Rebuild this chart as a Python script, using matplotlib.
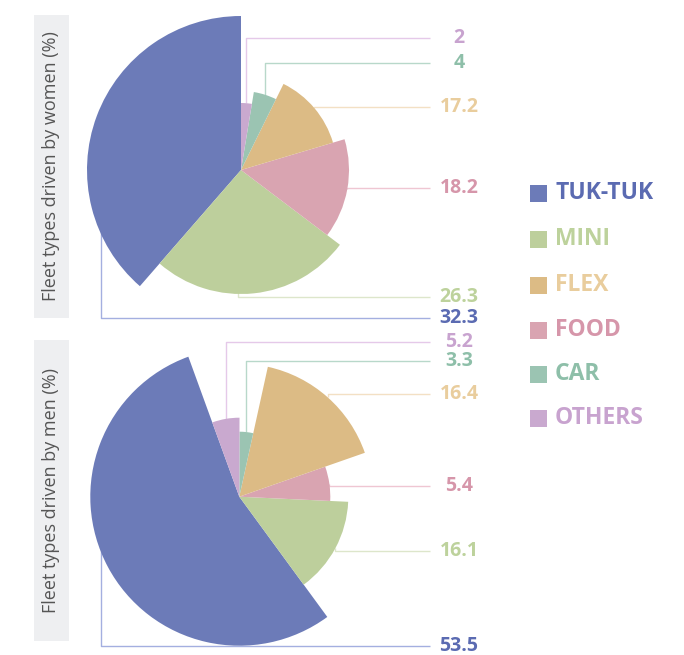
import numpy as np
import matplotlib
matplotlib.use("Agg")
import matplotlib.pyplot as plt
from matplotlib.patches import Rectangle

# ---------------- data ----------------
categories = ["TUK-TUK", "MINI", "FLEX", "FOOD", "CAR", "OTHERS"]
women_values = [32.3, 26.3, 17.2, 18.2, 4, 2]
men_values = [53.5, 16.1, 16.4, 5.4, 3.3, 5.2]
# angular share of each sector as drawn in the source graphic (%)
women_sector_share = [38.6, 26.1, 13.1, 14.9, 4.7, 2.6]
men_sector_share = [54.5, 14.2, 16.2, 6.1, 3.4, 5.6]
panel_titles = ["Fleet types driven by women (%)", "Fleet types driven by men (%)"]
# counter-clockwise order of the sectors in the pies
pie_order = ["TUK-TUK", "MINI", "FOOD", "FLEX", "CAR", "OTHERS"]

# ---------------- style / layout ----------------
wedge_colors = {"TUK-TUK": "#6c7bb8", "MINI": "#bdcf9c", "FLEX": "#dcbb85",
                "FOOD": "#d9a4b1", "CAR": "#9bc4b2", "OTHERS": "#c9a9cf"}
label_colors = {"TUK-TUK": "#5b6bb2", "MINI": "#bdd29c", "FLEX": "#e9cd9d",
                "FOOD": "#d696aa", "CAR": "#8ebfa9", "OTHERS": "#c8a3cf"}
line_colors = {"TUK-TUK": "#a4afe0", "MINI": "#dde6cb", "FLEX": "#f3e0c4",
               "FOOD": "#efc6d2", "CAR": "#b8d8ca", "OTHERS": "#e5c9e9"}

W, H = 684, 655
centers_px = [(241.0, 170.0), (239.3, 496.7)]
radii_by_rank = [[67, 79, 96, 108, 124, 154], [65, 79, 91, 109, 133, 149]]
start_angles = [90, 110]
label_y_px = [{"TUK-TUK": 318, "MINI": 297, "FLEX": 107, "FOOD": 188, "CAR": 63, "OTHERS": 38},
              {"TUK-TUK": 646, "MINI": 551, "FLEX": 394, "FOOD": 486, "CAR": 361, "OTHERS": 342}]
# leaders that drop from the bottom of the sector at a given x instead of the mid-angle
leader_x_override = [{"TUK-TUK": 101, "MINI": 238}, {"TUK-TUK": 101}]
line_end_x = 430
label_x = 459
legend_y_px = [193, 239, 285, 330, 374, 418]

NUM_FONT = ["Open Sans", "DejaVu Sans"]

fig = plt.figure(figsize=(W / 100, H / 100), dpi=100)
ax = fig.add_axes([0, 0, 1, 1])

datasets = [(women_values, women_sector_share), (men_values, men_sector_share)]

for k, (values, shares) in enumerate(datasets):
    cx, cy_px = centers_px[k]
    cy = H - cy_px
    idx = [categories.index(c) for c in pie_order]
    vals = [values[i] for i in idx]
    shr = [shares[i] for i in idx]
    wedges, _ = ax.pie(shr, startangle=start_angles[k], counterclock=True,
                       center=(cx, cy), radius=1,
                       colors=[wedge_colors[c] for c in pie_order],
                       wedgeprops=dict(linewidth=0, zorder=3))
    ranks = np.argsort(np.argsort(vals))
    for j, w in enumerate(wedges):
        cat = pie_order[j]
        r = radii_by_rank[k][ranks[j]]
        w.set_radius(r)
        w.set_zorder(3)
        if cat in leader_x_override[k]:
            axx = leader_x_override[k][cat]
            dx = axx - cx
            ayy = cy - np.sqrt(max(r * r - dx * dx, 0.0)) + 3
        else:
            mid = np.deg2rad((w.theta1 + w.theta2) / 2)
            axx = cx + r * np.cos(mid)
            ayy = cy + r * np.sin(mid)
        ly = H - label_y_px[k][cat]
        ax.plot([axx, axx, line_end_x], [ayy, ly, ly], color=line_colors[cat],
                lw=1.0, zorder=1, solid_capstyle="butt")
        ax.text(label_x, ly, f"{vals[j]:g}", ha="center", va="center",
                color=label_colors[cat], fontsize=14, fontweight="bold",
                family=NUM_FONT, zorder=5)

# side titles in grey boxes
boxes = [(15, 318), (340, 641)]
for k, (y0, y1) in enumerate(boxes):
    ax.add_patch(Rectangle((34, H - y1), 35, y1 - y0, facecolor="#eeeff1",
                           edgecolor="none", zorder=0))
    ax.text(51.5, H - (y0 + y1) / 2, panel_titles[k], rotation=90,
            ha="center", va="center", fontsize=13, color="#555555",
            family=["Open Sans", "DejaVu Sans"])

# legend
for i, cat in enumerate(categories):
    yc = H - legend_y_px[i]
    ax.add_patch(Rectangle((530, yc - 8.5), 17, 17, facecolor=wedge_colors[cat],
                           edgecolor="none"))
    ax.text(555, yc, cat, ha="left", va="center", fontsize=16.5,
            fontweight="bold", color=label_colors[cat], family=NUM_FONT)

ax.set_xlim(0, W)
ax.set_ylim(0, H)
ax.set_aspect("equal")
ax.axis("off")

fig.savefig("out.png", dpi=100, facecolor="white")
